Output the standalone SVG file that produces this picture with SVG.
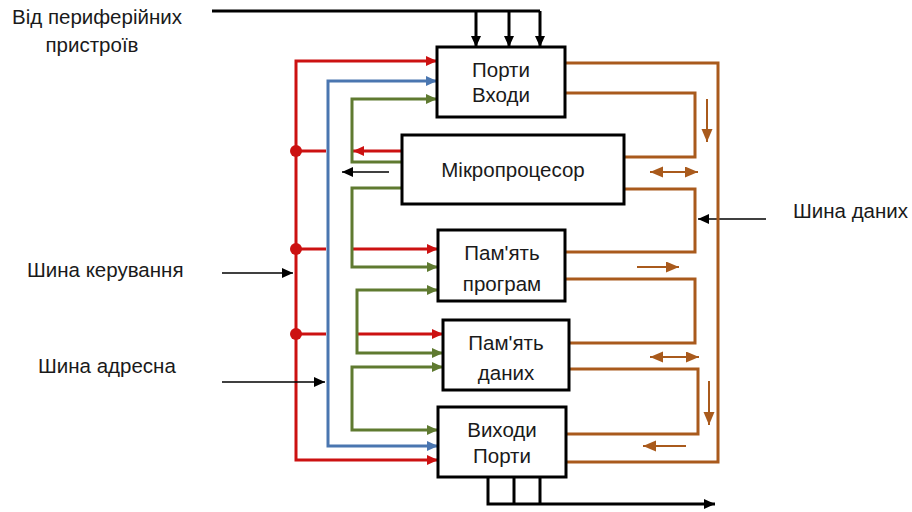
<svg xmlns="http://www.w3.org/2000/svg" width="912" height="512" viewBox="0 0 912 512">
<style>
.box{fill:#fff;stroke:#000;stroke-width:3}
.t{font-family:"Liberation Sans",Arial,sans-serif;font-size:20.5px;fill:#1a1a1a}
.c{text-anchor:middle}
.red{fill:none;stroke:#CC1111;stroke-width:3}
.blue{fill:none;stroke:#4A76B0;stroke-width:3}
.green{fill:none;stroke:#5F7A30;stroke-width:3}
.brown{fill:none;stroke:#A95A1C;stroke-width:3}
.brownthin{fill:none;stroke:#A95A1C;stroke-width:2}
.blk{fill:none;stroke:#000;stroke-width:3}
.blkthin{fill:none;stroke:#000;stroke-width:1.6}
</style>
<defs>
<marker id="ar" markerUnits="userSpaceOnUse" markerWidth="12" markerHeight="12" refX="11" refY="5" orient="auto-start-reverse"><path d="M0,0 L11,5 L0,10 z" fill="#CC1111"/></marker>
<marker id="ab" markerUnits="userSpaceOnUse" markerWidth="12" markerHeight="12" refX="11" refY="5" orient="auto-start-reverse"><path d="M0,0 L11,5 L0,10 z" fill="#4A76B0"/></marker>
<marker id="ag" markerUnits="userSpaceOnUse" markerWidth="12" markerHeight="12" refX="11" refY="5" orient="auto-start-reverse"><path d="M0,0 L11,5 L0,10 z" fill="#5F7A30"/></marker>
<marker id="ao" markerUnits="userSpaceOnUse" markerWidth="14" markerHeight="12" refX="13" refY="5.5" orient="auto-start-reverse"><path d="M0,0 L13,5.5 L0,11 z" fill="#A95A1C"/></marker>
<marker id="ak" markerUnits="userSpaceOnUse" markerWidth="12" markerHeight="12" refX="11" refY="5" orient="auto-start-reverse"><path d="M0,0 L11,5 L0,10 z" fill="#000"/></marker>
</defs>

<g id="connectors">
<!-- top peripheral input -->
<path class="blk" d="M212,11 H540"/>
<path class="blk" d="M476,11 V47" marker-end="url(#ak)"/>
<path class="blk" d="M509,11 V47" marker-end="url(#ak)"/>
<path class="blk" d="M540,11 V47" marker-end="url(#ak)"/>
<!-- bottom output -->
<path class="blk" d="M488,478 V504 H715" marker-end="url(#ak)"/>
<path class="blk" d="M514,478 V504"/>
<path class="blk" d="M540,478 V504"/>

<!-- control bus (red) -->
<path class="red" d="M437,61 H296 V460 H438" marker-start="url(#ar)" marker-end="url(#ar)"/>
<path class="red" d="M296,151 H326"/>
<path class="red" d="M296,249 H326"/>
<path class="red" d="M296,334 H326"/>
<circle cx="296" cy="151" r="6" fill="#CC1111"/>
<circle cx="296" cy="249" r="6" fill="#CC1111"/>
<circle cx="296" cy="334" r="6" fill="#CC1111"/>
<path class="red" d="M402,151 H353" marker-end="url(#ar)"/>
<path class="red" d="M352,249 H438" marker-end="url(#ar)"/>
<path class="red" d="M357,334 H443" marker-end="url(#ar)"/>

<!-- address bus (blue) -->
<path class="blue" d="M437,81 H328 V446 H438" marker-start="url(#ab)" marker-end="url(#ab)"/>

<!-- green -->
<path class="green" d="M402,162 H352 V99 H437" marker-end="url(#ag)"/>
<path class="green" d="M402,188 H352 V267 H438" marker-end="url(#ag)"/>
<path class="green" d="M438,290 H357 V353 H443" marker-start="url(#ag)" marker-end="url(#ag)"/>
<path class="green" d="M443,367 H352 V430 H438" marker-start="url(#ag)" marker-end="url(#ag)"/>

<!-- black side arrows -->
<path class="blkthin" d="M389,172 H342" marker-end="url(#ak)"/>
<path class="blkthin" d="M222,273 H293" marker-end="url(#ak)"/>
<path class="blkthin" d="M222,382 H325" marker-end="url(#ak)"/>
<path class="blkthin" d="M766,219 H698" marker-end="url(#ak)"/>

<!-- data bus (brown) -->
<path class="brown" d="M565,63 H718 V462 H566"/>
<path class="brown" d="M565,93 H695 V157 H624"/>
<path class="brown" d="M624,189 H695 V252 H565"/>
<path class="brown" d="M565,279 H695 V343 H569"/>
<path class="brown" d="M569,369 H698 V434 H566"/>
<path class="brownthin" d="M707,99 V142" marker-end="url(#ao)"/>
<path class="brownthin" d="M650,172 H698" marker-start="url(#ao)" marker-end="url(#ao)"/>
<path class="brownthin" d="M637,267 H679" marker-end="url(#ao)"/>
<path class="brownthin" d="M650,357 H699" marker-start="url(#ao)" marker-end="url(#ao)"/>
<path class="brownthin" d="M709,381 V425" marker-end="url(#ao)"/>
<path class="brownthin" d="M686,446 H643" marker-end="url(#ao)"/>
</g>

<g id="ports-in">
<rect class="box" x="437" y="47" width="128" height="70"/>
<text class="t c" x="501" y="77">Порти</text>
<text class="t c" x="501" y="102">Входи</text>
</g>
<g id="cpu">
<rect class="box" x="402" y="135" width="222" height="69"/>
<text class="t c" x="513" y="177">Мікропроцесор</text>
</g>
<g id="prog-mem">
<rect class="box" x="438" y="230" width="127" height="71"/>
<text class="t c" x="502" y="260">Пам'ять</text>
<text class="t c" x="502" y="291">програм</text>
</g>
<g id="data-mem">
<rect class="box" x="443" y="320" width="126" height="70"/>
<text class="t c" x="506" y="350">Пам'ять</text>
<text class="t c" x="506" y="380">даних</text>
</g>
<g id="ports-out">
<rect class="box" x="438" y="407" width="128" height="70"/>
<text class="t c" x="502" y="437">Виходи</text>
<text class="t c" x="502" y="463">Порти</text>
</g>

<g id="labels">
<text class="t" x="12" y="24">Від периферійних</text>
<text class="t c" x="92" y="52">пристроїв</text>
<text class="t" x="27" y="277">Шина керування</text>
<text class="t" x="38" y="373">Шина адресна</text>
<text class="t" x="793" y="218">Шина даних</text>
</g>
</svg>
